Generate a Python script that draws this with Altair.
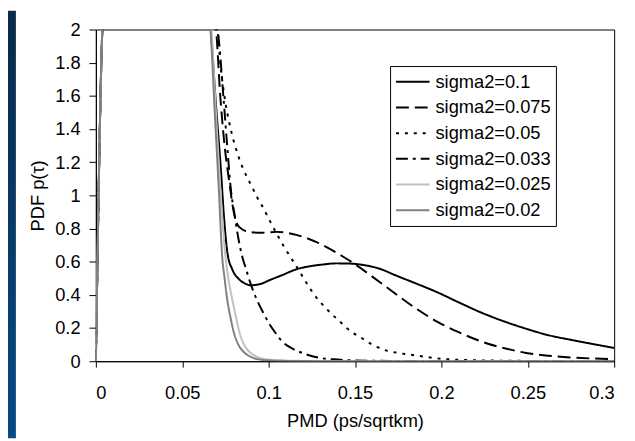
import altair as alt
import pandas as pd

# series labels, in legend order
series = ['sigma2=0.1', 'sigma2=0.075', 'sigma2=0.05', 'sigma2=0.033', 'sigma2=0.025', 'sigma2=0.02']

# PMD (x) and PDF (y); values above 2 run off the top of the plot
x_01 = [0, 0.005, 0.06, 0.0665, 0.0695, 0.0724, 0.0743, 0.0762, 0.079, 0.0829, 0.0865, 0.0895, 0.095,
        0.1008, 0.108, 0.116, 0.124, 0.1313, 0.139, 0.1465, 0.155, 0.165, 0.173, 0.185, 0.198, 0.21,
        0.2227, 0.235, 0.249, 0.262, 0.276, 0.288, 0.3]
y_01 = [0, 2.2, 2.4, 2.0, 1.55, 1.15, 0.85, 0.65, 0.553, 0.494, 0.468, 0.458, 0.465,
        0.49, 0.52, 0.554, 0.573, 0.583, 0.59, 0.589, 0.58, 0.555, 0.52, 0.47, 0.414, 0.355,
        0.295, 0.245, 0.196, 0.157, 0.127, 0.103, 0.08]

x_075 = [0, 0.005, 0.06, 0.0695, 0.072, 0.0745, 0.0771, 0.08, 0.0829, 0.0886, 0.096, 0.1046, 0.116,
         0.1274, 0.1427, 0.15, 0.16, 0.173, 0.185, 0.198, 0.21, 0.2265, 0.24, 0.249, 0.262, 0.276, 0.3]
y_075 = [0, 2.2, 2.4, 2.0, 1.6, 1.3, 1.09, 0.89, 0.81, 0.78, 0.775, 0.78, 0.762,
         0.72, 0.633, 0.585, 0.51, 0.41, 0.32, 0.236, 0.175, 0.107, 0.07, 0.05, 0.033, 0.022, 0.013]

x_05 = [0, 0.005, 0.06, 0.0703, 0.0725, 0.075, 0.0785, 0.0827, 0.0857, 0.0895, 0.0933, 0.0971, 0.101,
        0.1046, 0.1084, 0.116, 0.1265, 0.135, 0.142, 0.148, 0.1525, 0.16, 0.1674, 0.175, 0.185, 0.2,
        0.22, 0.25, 0.3]
y_05 = [0, 2.2, 2.4, 2.0, 1.75, 1.56, 1.38, 1.23, 1.15, 1.07, 0.99, 0.92, 0.84,
        0.77, 0.70, 0.573, 0.40, 0.30, 0.232, 0.176, 0.149, 0.10, 0.067, 0.05, 0.035, 0.015,
        0.006, 0.002, 0.0]

x_033 = [0, 0.005, 0.06, 0.0705, 0.074, 0.076, 0.078, 0.0805, 0.0825, 0.0845, 0.087, 0.0898, 0.093,
         0.0965, 0.0998, 0.104, 0.108, 0.114, 0.12, 0.131, 0.14, 0.16, 0.2, 0.3]
y_033 = [0, 2.2, 2.4, 2.0, 1.57, 1.3, 1.05, 0.87, 0.74, 0.64, 0.553, 0.46, 0.375,
         0.30, 0.236, 0.17, 0.117, 0.075, 0.048, 0.018, 0.01, 0.003, 0.001, 0.0]

x_025 = [0, 0.005, 0.06, 0.0668, 0.0695, 0.072, 0.075, 0.077, 0.0789, 0.081, 0.0836, 0.087, 0.0913,
         0.095, 0.1, 0.11, 0.12, 0.15, 0.2, 0.3]
y_025 = [0, 2.2, 2.4, 2.0, 1.5, 1.05, 0.633, 0.48, 0.375, 0.27, 0.157, 0.08, 0.038,
         0.02, 0.01, 0.004, 0.002, 0.0, 0.0, 0.0]

x_02 = [0, 0.005, 0.06, 0.0663, 0.0688, 0.0712, 0.0731, 0.0745, 0.076, 0.078, 0.0798, 0.0825, 0.0855,
        0.089, 0.093, 0.1, 0.11, 0.12, 0.15, 0.2, 0.3]
y_02 = [0, 2.2, 2.4, 2.0, 1.5, 1.03, 0.633, 0.5, 0.375, 0.26, 0.176, 0.1, 0.057,
        0.03, 0.014, 0.005, 0.002, 0.001, 0.0, 0.0, 0.0]

x_ticks = [0, 0.05, 0.1, 0.15, 0.2, 0.25, 0.3]
y_ticks = [0, 0.2, 0.4, 0.6, 0.8, 1, 1.2, 1.4, 1.6, 1.8, 2]

colors = ['black', 'black', 'black', 'black', '#c0c0c0', '#808080']
dashes = [[1, 0], [13, 6], [3, 6], [12, 5, 3, 5], [1, 0], [1, 0]]
widths = [2, 2, 2.5, 2, 2, 2.5]

frames = []
for name, xs, ys in zip(series, [x_01, x_075, x_05, x_033, x_025, x_02],
                        [y_01, y_075, y_05, y_033, y_025, y_02]):
    frames.append(pd.DataFrame({'pmd': xs, 'pdf': ys, 'series': name}))
df = pd.concat(frames, ignore_index=True)

font = 'Liberation Sans'

legend = alt.Legend(
    title=None, orient='none', legendX=298, legendY=37,
    fillColor='white', strokeColor='black', padding=5,
    symbolType='stroke', symbolSize=1150, symbolStrokeWidth=2.5,
    labelFont=font, labelFontSize=18.5, labelColor='black', labelOffset=5,
    clipHeight=22, rowPadding=4
)

lines = alt.Chart(df).mark_line(clip=True, interpolate='monotone').encode(
    x=alt.X('pmd:Q', title='PMD (ps/sqrtkm)',
            scale=alt.Scale(domain=[0, 0.3], nice=False, zero=False),
            axis=alt.Axis(values=x_ticks, format='~g', tickSize=6, labelPadding=17, titlePadding=10)),
    y=alt.Y('pdf:Q', title='PDF p(τ)',
            scale=alt.Scale(domain=[0, 2], nice=False),
            axis=alt.Axis(values=y_ticks, format='~g', tickSize=7, labelPadding=9, titlePadding=7)),
    color=alt.Color('series:N', scale=alt.Scale(domain=series, range=colors), legend=legend),
    strokeDash=alt.StrokeDash('series:N', scale=alt.Scale(domain=series, range=dashes), legend=legend),
    strokeWidth=alt.StrokeWidth('series:N', scale=alt.Scale(domain=series, range=widths), legend=None),
)

# dark blue slide edge on the left
edge = alt.Chart(pd.DataFrame({'k': [0]})).mark_rect(
    color=alt.LinearGradient(
        gradient='linear', x1=0, x2=0, y1=0, y2=1,
        stops=[alt.GradientStop(color='#0a2a48', offset=0),
               alt.GradientStop(color='#074a86', offset=1)]
    )
).encode(x=alt.value(-89), x2=alt.value(-81), y=alt.value(-19), y2=alt.value(414))

chart = (edge + lines).properties(
    width=525, height=336,
    background='white',
    autosize=alt.AutoSizeParams(type='none'),
    padding={'left': 89, 'top': 19, 'right': 13, 'bottom': 78}
).configure_view(
    stroke='black', strokeWidth=1
).configure_axis(
    grid=False, domainColor='black', tickColor='black', domainWidth=1,
    labelFont=font, labelFontSize=18.5, labelColor='black',
    titleFont=font, titleFontSize=18.5, titleFontWeight='normal', titleColor='black'
)

chart.save("out.html", embed_options={"renderer": "svg", "actions": False})
